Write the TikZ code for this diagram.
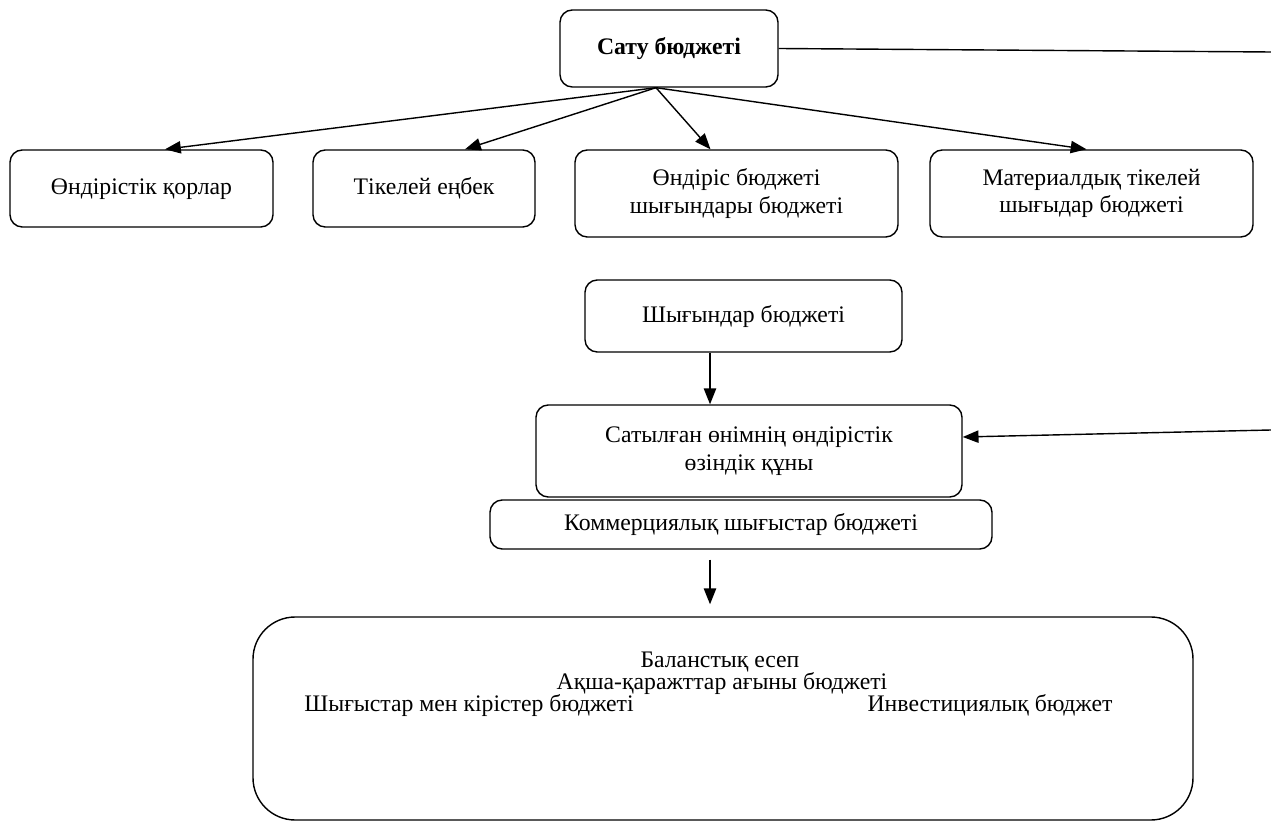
\documentclass[tikz,border=0pt]{standalone}
\usepackage{fontspec}
\setmainfont{Liberation Serif}
\usetikzlibrary{positioning,arrows.meta,calc}

\begin{document}
\begin{tikzpicture}[>={Triangle[length=9pt,width=7pt]},
  every node/.style={font=\fontsize{13.5}{15.8}\selectfont},
  box/.style={draw, line width=0.8pt, rounded corners=7pt, align=center, inner sep=0pt},
  one/.style={text height=11pt, text depth=4pt},
  tight/.style={inner sep=0pt, text height=9.5pt, text depth=2.5pt},
  arr/.style={->, line width=0.8pt}]

  \useasboundingbox (0,0) rectangle (25.42,-16.46);

  %% ─── Top: sales budget and its branches ───────────────────────────────
  \node[box, one, minimum width=4.36cm, minimum height=1.54cm] (sb_sales) at (13.38,-0.97)
    {\textbf{Сату бюджеті}};
  \node[box, one, minimum width=5.26cm, minimum height=1.54cm] (sb_stock) at (2.83,-3.77)
    {Өндірістік қорлар};
  \node[box, one, minimum width=4.44cm, minimum height=1.54cm] (sb_labour) at (8.48,-3.77)
    {Тікелей еңбек};
  \node[box, minimum width=6.46cm, minimum height=1.74cm] (sb_prod) at (14.73,-3.87)
    {Өндіріс бюджеті\\шығындары бюджеті};
  \node[box, minimum width=6.46cm, minimum height=1.74cm] (sb_mat) at (21.83,-3.87)
    {Материалдық тікелей\\шығыдар бюджеті};

  \coordinate (sb_fan) at ([xshift=-0.26cm]sb_sales.south);
  \draw[arr] (sb_fan) -- ([xshift=0.47cm]sb_stock.north);
  \draw[arr] (sb_fan) -- ([xshift=0.82cm]sb_labour.north);
  \draw[arr] (sb_fan) -- ([xshift=-0.52cm]sb_prod.north);
  \draw[arr] (sb_fan) -- ([xshift=-0.1cm]sb_mat.north);

  %% ─── Middle: cost chain ───────────────────────────────────────────────
  \node[box, one, minimum width=6.34cm, minimum height=1.44cm] (cb_costs) at (14.87,-6.32)
    {Шығындар бюджеті};
  \node[box, minimum width=8.52cm, minimum height=1.84cm] (cb_cogs) at (14.98,-9.02)
    {Сатылған өнімнің өндірістік\\өзіндік құны};
  \node[box, one, minimum width=10.04cm, minimum height=0.98cm] (cb_comm) at (14.82,-10.49)
    {Коммерциялық шығыстар бюджеті};

  \draw[arr] ([xshift=-0.67cm]cb_costs.south) -- ([xshift=-0.67cm]cb_costs.south |- cb_cogs.north);

  %% ─── Right edge: line from sales, arrow into cost of goods ───────────
  \coordinate (rt_top) at (25.42,-1.04);
  \coordinate (rt_low) at (25.42,-8.6);
  \draw[line width=0.8pt] (sb_sales.east) -- (rt_top);
  \draw[arr] (rt_low) -- ([yshift=0.28cm]cb_cogs.east);

  %% ─── Bottom: master budget ────────────────────────────────────────────
  \node[box, rounded corners=24pt, minimum width=18.8cm, minimum height=4.06cm] (mb_all) at (14.46,-14.37) {};
  \node[tight] (mb_bal)  at (14.4,-13.23)  {Баланстық есеп};
  \node[tight] (mb_cash) at (14.44,-13.67) {Ақша-қаражттар ағыны бюджеті};
  \node[tight] (mb_inc)  at (9.38,-14.11) {Шығыстар мен кірістер бюджеті};
  \node[tight] (mb_inv)  at (19.8,-14.11) {Инвестициялық бюджет};

  \draw[arr, shorten <=0.2cm, shorten >=0.24cm] ([xshift=-0.62cm]cb_comm.south) -- ([xshift=-0.62cm]cb_comm.south |- mb_all.north);
\end{tikzpicture}
\end{document}
